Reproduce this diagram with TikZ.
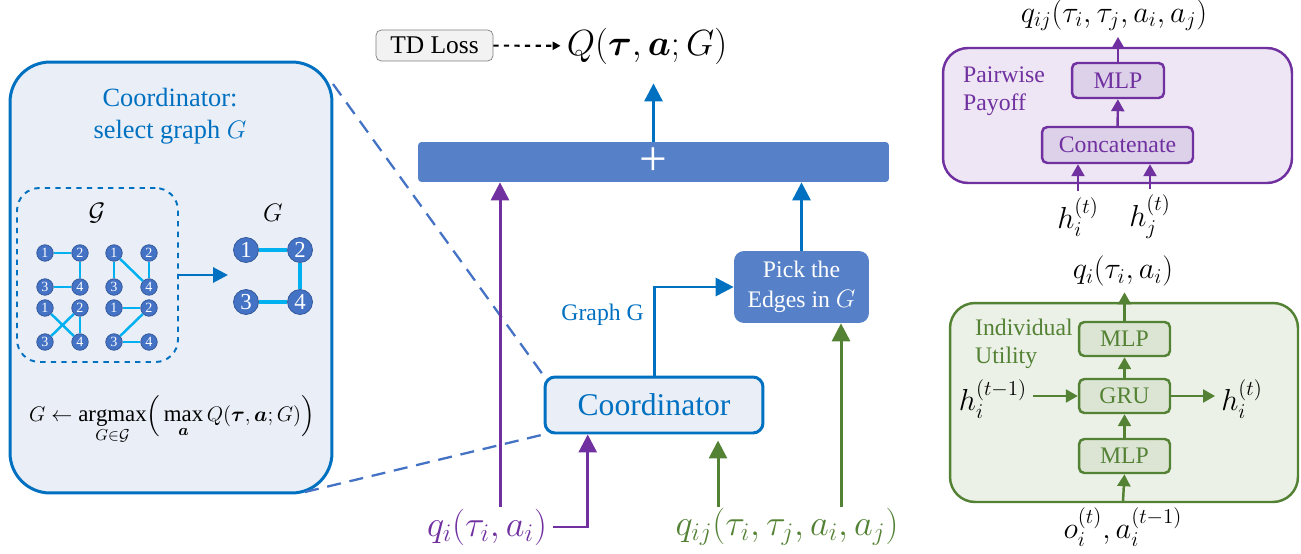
\documentclass[tikz,border=0pt]{standalone}
\usepackage{fontspec}
\setmainfont{Liberation Serif}
\usepackage{amsmath,amssymb,bm}
\usetikzlibrary{positioning,arrows.meta,calc}
\definecolor{cgBlue}{HTML}{0070C0}
\definecolor{cgBar}{HTML}{5681C8}
\definecolor{cgNode}{HTML}{4472C4}
\definecolor{cgNodeLine}{HTML}{2F5597}
\definecolor{cgEdge}{HTML}{00B0F0}
\definecolor{cgPanel}{HTML}{E9EEF7}
\definecolor{cgPurple}{HTML}{7030A0}
\definecolor{cgPurpleBg}{HTML}{EEE6F4}
\definecolor{cgPurpleBox}{HTML}{DDD0E9}
\definecolor{cgGreen}{HTML}{548235}
\definecolor{cgGreenBg}{HTML}{ECF1E7}
\definecolor{cgGreenBox}{HTML}{DCE5D4}
\definecolor{cgGray}{HTML}{7F7F7F}

\begin{document}
\begin{tikzpicture}[x=0.02cm, y=-0.02cm,
  panel/.style={draw=cgBlue, fill=cgPanel, line width=1.7pt, rounded corners=0.8cm,
                minimum width=6.44cm, minimum height=8.62cm},
  paneltitle/.style={text=cgBlue, align=center, font=\fontsize{15}{18}\selectfont},
  setbox/.style={draw=cgBlue, dashed, line width=1.1pt, rounded corners=0.45cm,
                 minimum width=3.22cm, minimum height=3.48cm},
  mathlbl/.style={font=\fontsize{15}{18}\selectfont},
  smallv/.style={circle, draw=cgNodeLine, fill=cgNode, text=white, inner sep=0pt,
                 minimum size=0.33cm, font=\fontsize{8}{9}\selectfont},
  bigv/.style={circle, draw=cgNodeLine, fill=cgNode, text=white, inner sep=0pt,
               minimum size=0.5cm, font=\fontsize{13}{15}\selectfont},
  smalle/.style={cgEdge, line width=1.4pt},
  bige/.style={cgEdge, line width=1.9pt},
  formula/.style={inner sep=0pt, font=\fontsize{13}{16}\selectfont},
  bar/.style={fill=cgBar, rounded corners=2pt, minimum width=9.42cm, minimum height=0.8cm,
              inner sep=0pt, text=white, font=\fontsize{28}{28}\selectfont},
  coordbox/.style={draw=cgBlue, fill=cgPanel, line width=1.7pt, rounded corners=0.2cm,
                   minimum width=4.36cm, minimum height=1.12cm, text=cgBlue,
                   font=\fontsize{18}{22}\selectfont},
  pickbox/.style={fill=cgBar, rounded corners=0.2cm, minimum width=2.7cm, minimum height=1.44cm,
                  text=white, align=center, font=\fontsize{13.5}{17}\selectfont},
  tdbox/.style={draw=cgGray, fill=black!5, rounded corners=3pt, minimum width=2.34cm,
                minimum height=0.62cm, inner sep=1pt, font=\fontsize{14.5}{17}\selectfont},
  bigmath/.style={font=\fontsize{22.5}{26}\selectfont},
  qlbl/.style={font=\fontsize{19.5}{22}\selectfont},
  zoomline/.style={cgNode, dashed, line width=1.3pt, dash pattern=on 8pt off 5pt},
  flecha/.style={-{Triangle[width=0.36cm, length=0.36cm]}, line width=1.7pt},
  flechita/.style={-{Triangle[width=0.26cm, length=0.24cm]}, line width=1.4pt},
  ppanel/.style={draw=cgPurple, fill=cgPurpleBg, line width=1.4pt, rounded corners=0.5cm,
                 minimum width=6.98cm, minimum height=2.7cm},
  gpanel/.style={draw=cgGreen, fill=cgGreenBg, line width=1.4pt, rounded corners=0.5cm,
                 minimum width=6.96cm, minimum height=3.98cm},
  pbox/.style={draw=cgPurple, fill=cgPurpleBox, line width=1.4pt, rounded corners=3pt,
               minimum height=0.7cm, text=cgPurple, font=\fontsize{13.5}{16}\selectfont},
  gbox/.style={draw=cgGreen, fill=cgGreenBox, line width=1.4pt, rounded corners=3pt,
               minimum width=1.82cm, minimum height=0.68cm, text=cgGreen,
               font=\fontsize{13.5}{16}\selectfont},
  sidelbl/.style={align=left, font=\fontsize{13.5}{16}\selectfont},
  smath/.style={font=\fontsize{16.5}{19}\selectfont}
]
\useasboundingbox (0,0) rectangle (1301,554);

% left panel: coordinator zoom-in
\node[panel] (coordpanel) at (171,277.5) {};
\node[paneltitle] (ptitle) at (170,116) {Coordinator:\\select graph $G$};
\node[setbox] (gset) at (97.5,275) {};
\node[mathlbl] (gsetlbl) at (97,213) {$\mathcal{G}$};
\foreach \gx/\gy/\gn/\gedges in {45/253/a/{1/2,2/4,3/4}, 114/253/b/{1/3,1/4,2/4},
                                  45/308/c/{1/4,2/3,2/4}, 114/308/d/{1/2,2/3,3/4}}{
  \node[smallv] (\gn1) at (\gx,\gy) {1};
  \node[smallv] (\gn2) at (\gx+35,\gy) {2};
  \node[smallv] (\gn3) at (\gx,\gy+34) {3};
  \node[smallv] (\gn4) at (\gx+35,\gy+34) {4};
  \foreach \u/\v in \gedges \draw[smalle] (\gn\u) -- (\gn\v);
}
\node[mathlbl] (Glbl) at (273,213) {$G$};
\node[bigv] (G1) at (246,250) {1};
\node[bigv] (G2) at (300,250) {2};
\node[bigv] (G3) at (246,302) {3};
\node[bigv] (G4) at (300,302) {4};
\draw[bige] (G1) -- (G2);
\draw[bige] (G2) -- (G4);
\draw[bige] (G3) -- (G4);
\coordinate (gpick) at (228,275);
\draw[flecha, cgBlue, -{Triangle[width=0.3cm, length=0.3cm]}] (gset) -- (gpick);
\node[formula] (argmaxeq) at (172,420)
  {$G \leftarrow \mathop{\mathrm{argmax}}\limits_{G\in\mathcal{G}}\!
    \Big(\max\limits_{\bm{a}} Q(\bm{\tau},\bm{a};G)\Big)$};

% middle: mixing
\node[coordbox] (coord) at (654,405) {Coordinator};
\coordinate (zoomtop) at (333,84);
\coordinate (zoombot) at (305,492);
\draw[zoomline] (zoomtop) -- (coord.north west);
\draw[zoomline] (zoombot) -- (coord.south west);

\node[bar] (sumbar) at (653.5,162) {+};
\node[pickbox] (pick) at (801.5,287) {Pick the\\Edges in $G$};
\node[bigmath] (qtot) at (647,46) {$Q(\bm{\tau},\bm{a};G)$};
\node[tdbox] (td) at (434.5,45.5) {TD Loss};
\node[qlbl, text=cgPurple] (qi) at (487,527) {$q_i(\tau_i,a_i)$};
\node[qlbl, text=cgGreen] (qij) at (787,527) {$q_{ij}(\tau_i,\tau_j,a_i,a_j)$};

\draw[dashed, line width=1.2pt, -{Triangle[width=0.16cm, length=0.16cm]}] (td) -- (qtot);
\draw[flecha, cgBlue, shorten >=0.26cm] (sumbar.north) -- (sumbar.north |- qtot.south);
\draw[flecha, cgBlue] (pick.north) -- (pick.north |- sumbar.south);
\draw[flecha, cgBlue] (coord.north) |- (pick.west);
\node[text=cgBlue, anchor=east, font=\fontsize{13.5}{16}\selectfont] (graphlbl) at (650,315) {Graph G};

\coordinate (qiup) at (500,507);
\draw[flecha, cgPurple] (qiup) -- (qiup |- sumbar.south);
\draw[flecha, cgPurple] (qi.east) -| ($(coord.south west)!0.2!(coord.south east)$);
\coordinate (qijl) at (718,507);
\coordinate (qijr) at (841,507);
\draw[flecha, cgGreen, shorten >=0.12cm] (qijl) -- (qijl |- coord.south);
\draw[flecha, cgGreen] (qijr) -- (qijr |- pick.south);

% right top: pairwise payoff
\node[ppanel] (pairpanel) at (1117.5,115.5) {};
\node[pbox, minimum width=1.84cm] (pmlp) at (1118,80.5) {MLP};
\node[pbox, minimum width=3.02cm, minimum height=0.72cm] (concat) at (1117.5,145) {Concatenate};
\node[sidelbl, text=cgPurple, anchor=west] (pairlbl) at (957,91) {Pairwise\\Payoff};
\node[smath] (qijout) at (1114,15) {$q_{ij}(\tau_i,\tau_j,a_i,a_j)$};
\node[smath] (hi) at (1078,217) {$h_i^{(t)}$};
\node[smath] (hj) at (1150,217) {$h_j^{(t)}$};
\draw[flechita, cgPurple] (concat) -- (pmlp);
\draw[flechita, cgPurple] (pmlp.north) -- (pmlp.north |- qijout.south);
\draw[flechita, cgPurple] (hi.north) -- (hi.north |- concat.south);
\draw[flechita, cgPurple] (hj.north) -- (hj.north |- concat.south);

% right bottom: individual utility
\node[gpanel] (indpanel) at (1124,402.5) {};
\node[gbox] (umlp) at (1124.5,339) {MLP};
\node[gbox] (gru) at (1124.5,396) {GRU};
\node[gbox] (lmlp) at (1124.5,456) {MLP};
\node[sidelbl, text=cgGreen, anchor=west] (indlbl) at (969,344) {Individual\\Utility};
\node[smath] (qiout) at (1123,271) {$q_i(\tau_i,a_i)$};
\node[smath] (hprev) at (993,399) {$h_i^{(t-1)}$};
\node[smath] (hnext) at (1242,399) {$h_i^{(t)}$};
\node[smath] (obs) at (1123,527) {$o_i^{(t)},a_i^{(t-1)}$};
\draw[flechita, cgGreen] (obs.north) -- (lmlp.south);
\draw[flechita, cgGreen] (lmlp) -- (gru);
\draw[flechita, cgGreen] (gru) -- (umlp);
\draw[flechita, cgGreen] (umlp.north) -- (umlp.north |- qiout.south);
\draw[flechita, cgGreen] (hprev.east |- gru.west) -- (gru.west);
\draw[flechita, cgGreen] (gru.east) -- (hnext.west |- gru.east);

\end{tikzpicture}
\end{document}
